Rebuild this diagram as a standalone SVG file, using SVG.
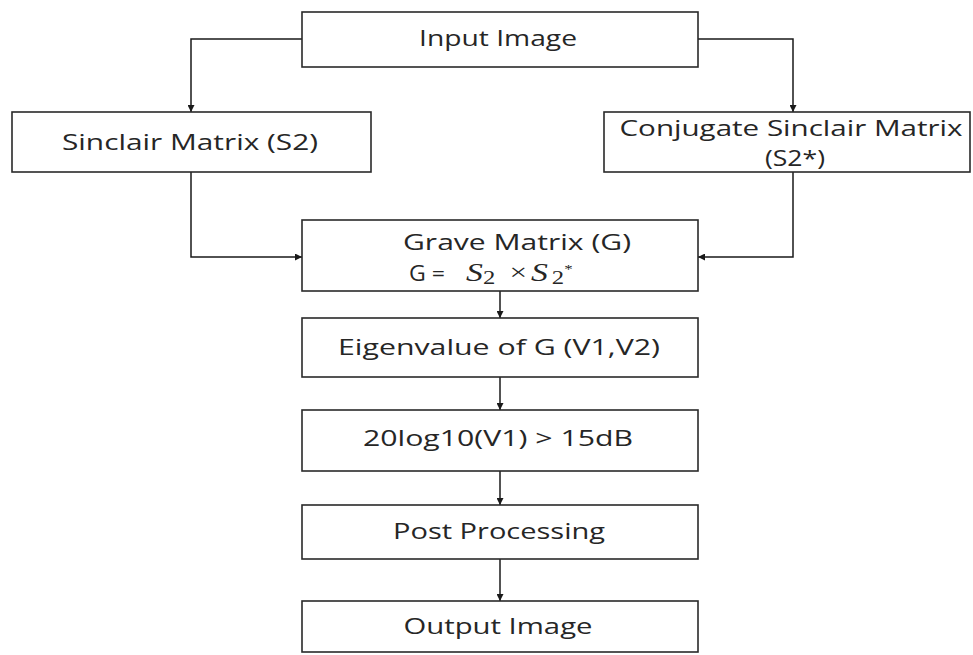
<svg xmlns="http://www.w3.org/2000/svg" width="973" height="655" viewBox="0 0 973 655">
<defs>
<marker id="ah" viewBox="0 0 10 10" refX="10" refY="5" markerWidth="7" markerHeight="7" markerUnits="userSpaceOnUse" orient="auto">
<path d="M0,0 L10,5 L0,10 z" fill="#1a1a1a"/>
</marker>
<style>
.box{fill:#fff;stroke:#2a2a2a;stroke-width:1.6}
.t{font-family:"Open Sans","Liberation Sans",sans-serif;font-size:22px;fill:#262626;text-anchor:middle}
.m{font-family:"Liberation Serif",serif;font-size:26px;fill:#262626}
.c{fill:none;stroke:#1a1a1a;stroke-width:1.5;marker-end:url(#ah)}
</style>
</defs>
<rect width="973" height="655" fill="#fff"/>
<g id="connectors">
<path class="c" d="M302,39 H191 V112"/>
<path class="c" d="M698,39 H793 V112"/>
<path class="c" d="M191,172 V257 H302"/>
<path class="c" d="M793,172 V257 H698"/>
<path class="c" d="M500,291 V318"/>
<path class="c" d="M500,377 V410"/>
<path class="c" d="M500,471 V505"/>
<path class="c" d="M500,559 V601"/>
</g>
<g id="input">
<rect class="box" x="302" y="12" width="396" height="55"/>
<text class="t" x="498" y="46" textLength="158" lengthAdjust="spacingAndGlyphs">Input Image</text>
</g>
<g id="sinclair">
<rect class="box" x="12" y="112" width="359" height="60"/>
<text class="t" x="190" y="150" textLength="256" lengthAdjust="spacingAndGlyphs">Sinclair Matrix (S2)</text>
</g>
<g id="conjugate">
<rect class="box" x="604" y="112" width="366" height="60"/>
<text class="t" x="791" y="136" textLength="343" lengthAdjust="spacingAndGlyphs">Conjugate Sinclair Matrix</text>
<text class="t" x="795" y="166" textLength="60" lengthAdjust="spacingAndGlyphs">(S2*)</text>
</g>
<g id="grave">
<rect class="box" x="302" y="220" width="396" height="71"/>
<text class="t" x="517" y="250" textLength="228" lengthAdjust="spacingAndGlyphs">Grave Matrix (G)</text>
<text class="t" x="427" y="281" textLength="36" lengthAdjust="spacingAndGlyphs">G =</text>
<g transform="translate(466,281) scale(1.3,1)">
<text class="m" x="0" y="0"><tspan font-style="italic">S</tspan><tspan font-size="19" dy="3">2</tspan><tspan font-size="24" dx="11" dy="-4">×</tspan><tspan font-style="italic" dx="3" dy="1">S</tspan><tspan font-size="19" dx="3" dy="3">2</tspan><tspan font-size="13" dx="0" dy="-11">*</tspan></text>
</g>
</g>
<g id="eigen">
<rect class="box" x="302" y="318" width="396" height="59"/>
<text class="t" x="499" y="355" textLength="322" lengthAdjust="spacingAndGlyphs">Eigenvalue of G (V1,V2)</text>
</g>
<g id="threshold">
<rect class="box" x="302" y="410" width="396" height="61"/>
<text class="t" x="498" y="446" textLength="270" lengthAdjust="spacingAndGlyphs">20log10(V1) &gt; 15dB</text>
</g>
<g id="post">
<rect class="box" x="302" y="505" width="396" height="54"/>
<text class="t" x="499" y="539" textLength="212" lengthAdjust="spacingAndGlyphs">Post Processing</text>
</g>
<g id="output">
<rect class="box" x="302" y="601" width="396" height="51"/>
<text class="t" x="498" y="634" textLength="189" lengthAdjust="spacingAndGlyphs">Output Image</text>
</g>
</svg>
